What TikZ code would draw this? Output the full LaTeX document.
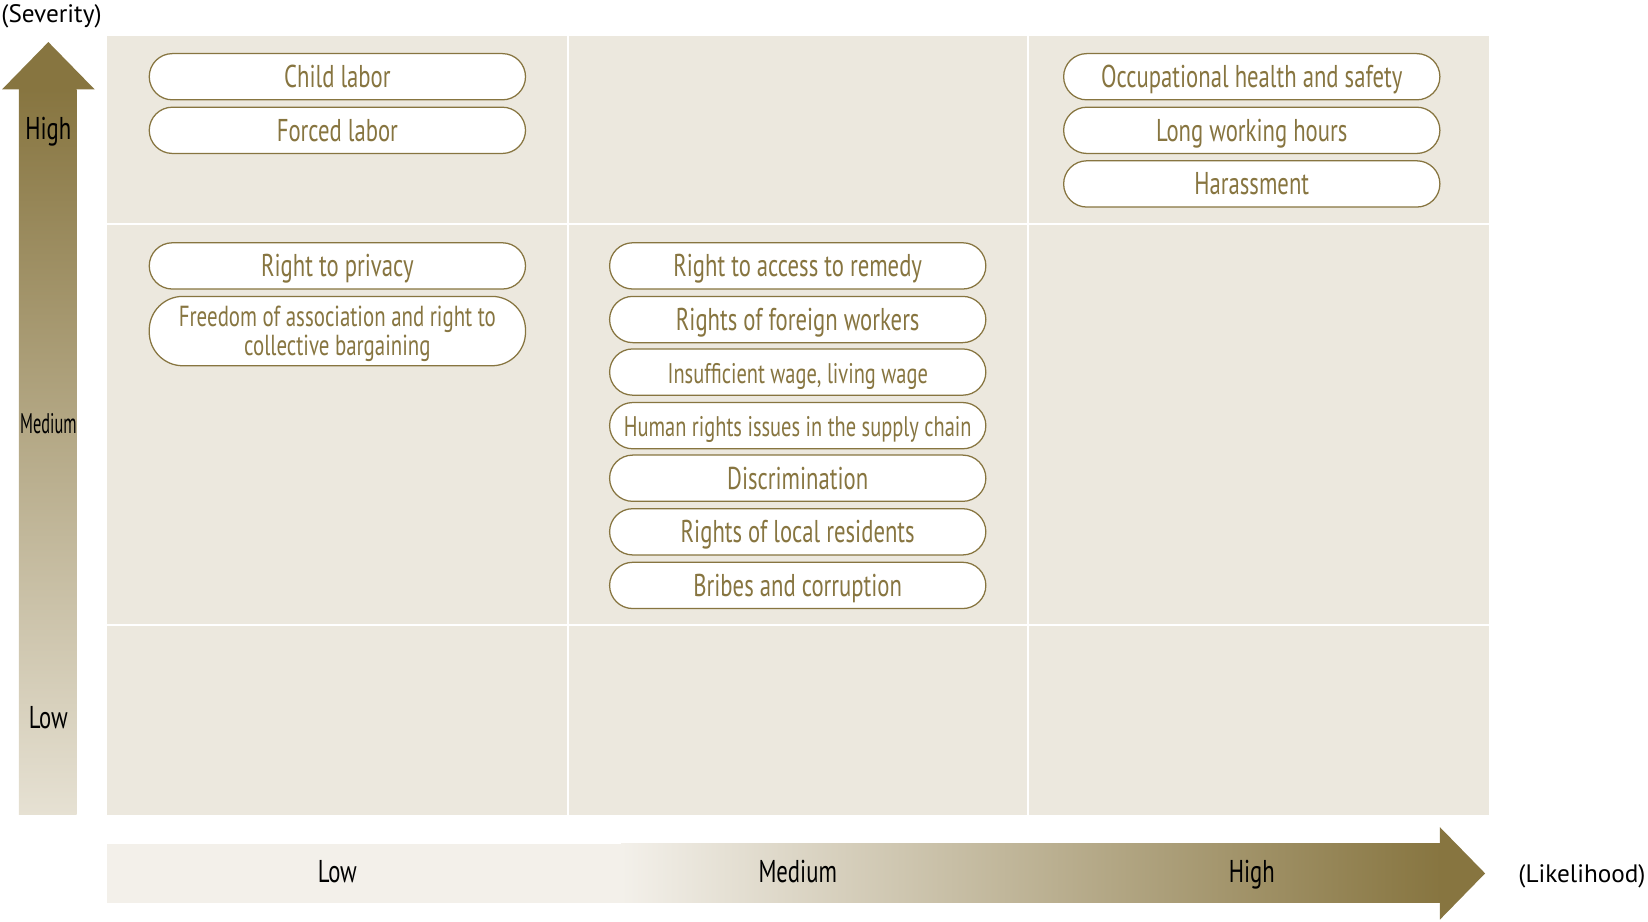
\documentclass[tikz,border=0pt]{standalone}
\usepackage{fontspec}
\setmainfont{PT Sans}[FakeStretch=0.72]
\newfontfamily\axisfont{PT Sans}
\definecolor{gold}{HTML}{877540}
\definecolor{cell}{HTML}{ECE8DE}
\definecolor{pale}{HTML}{F3F0EA}
\definecolor{paleend}{HTML}{E6E1D3}

\begin{document}
\begin{tikzpicture}[x=0.5pt, y=-0.5pt]
    \tikzstyle{issue}=[draw=gold, line width=0.6pt, fill=white, rounded corners=11pt, minimum width=179pt, minimum height=22pt, inner sep=0pt, text height=10.5pt, text depth=0pt, text=gold, align=center, font=\fontsize{15}{14}\selectfont]
    \tikzstyle{level}=[text=black, inner sep=0pt, text height=10.5pt, text depth=0pt, font=\fontsize{15}{17}\selectfont]
    \tikzstyle{axis name}=[text=black, inner sep=0pt, text height=8.5pt, text depth=0pt, font=\axisfont\fontsize{12}{14}\selectfont]

    \useasboundingbox (0,0) rectangle (1568,877);

    % Draw the 3x3 matrix
    \fill[cell] (102,34) rectangle (1417,775);
    \foreach \x in {540,978}
        \draw[white, line width=1pt] (\x,34) -- (\x,775);
    \foreach \y in {213,595}
        \draw[white, line width=1pt] (102,\y) -- (1417,\y);

    % Severity arrow
    \shade[top color=gold, bottom color=paleend] (18,85) rectangle (73,775);
    \fill[gold] (2,85) -- (46,40) -- (90,85) -- cycle;

    % Likelihood arrow
    \fill[pale] (102,803) rectangle (592,859);
    \shade[left color=pale, right color=gold] (591,803) rectangle (1371,859);
    \fill[gold] (1370,787) -- (1413,831) -- (1370,875) -- cycle;

    % Annotate the axes
    \node[axis name, anchor=west] (sev) at (1,13) {(Severity)};
    \node[axis name, anchor=east] (lik) at (1566,831) {(Likelihood)};
    \node[level] (s-high) at (46,122) {High};
    \node[level, text height=9.5pt, font=\fontsize{13.5}{15}\selectfont, xscale=0.8, transform shape] (s-med) at (46,403) {Medium};
    \node[level] (s-low) at (46,683) {Low};
    \node[level] (l-low) at (321,829) {Low};
    \node[level] (l-med) at (759,829) {Medium};
    \node[level] (l-high) at (1191,829) {High};

    % Draw the issues of the low likelihood column
    \foreach \name / \y / \txt in {child/73/Child labor, forced/124/Forced labor, privacy/253/Right to privacy}
        \node[issue] (\name) at (321,\y) {\txt};
    \node[issue, minimum height=33pt, rounded corners=16pt, text height=23.7pt, font=\fontsize{13.8}{14}\selectfont] (freedom) at (321,315) {Freedom of association and right to\\collective bargaining};

    % Draw the issues of the medium likelihood column
    \foreach \name / \y / \txt in {remedy/253/Right to access to remedy, foreign/304/Rights of foreign workers,
            wage/354/{\fontsize{13.5}{14}\selectfont Insufficient wage, living wage},
            supply/405/{\fontsize{13.5}{14}\selectfont Human rights issues in the supply chain},
            discrim/455/Discrimination, local/506/Rights of local residents, bribes/557/Bribes and corruption}
        \node[issue] (\name) at (759,\y) {\txt};

    % Draw the issues of the high likelihood column
    \foreach \name / \y / \txt in {ohs/73/Occupational health and safety, hours/124/Long working hours, harass/175/Harassment}
        \node[issue] (\name) at (1191,\y) {\txt};
\end{tikzpicture}
\end{document}
